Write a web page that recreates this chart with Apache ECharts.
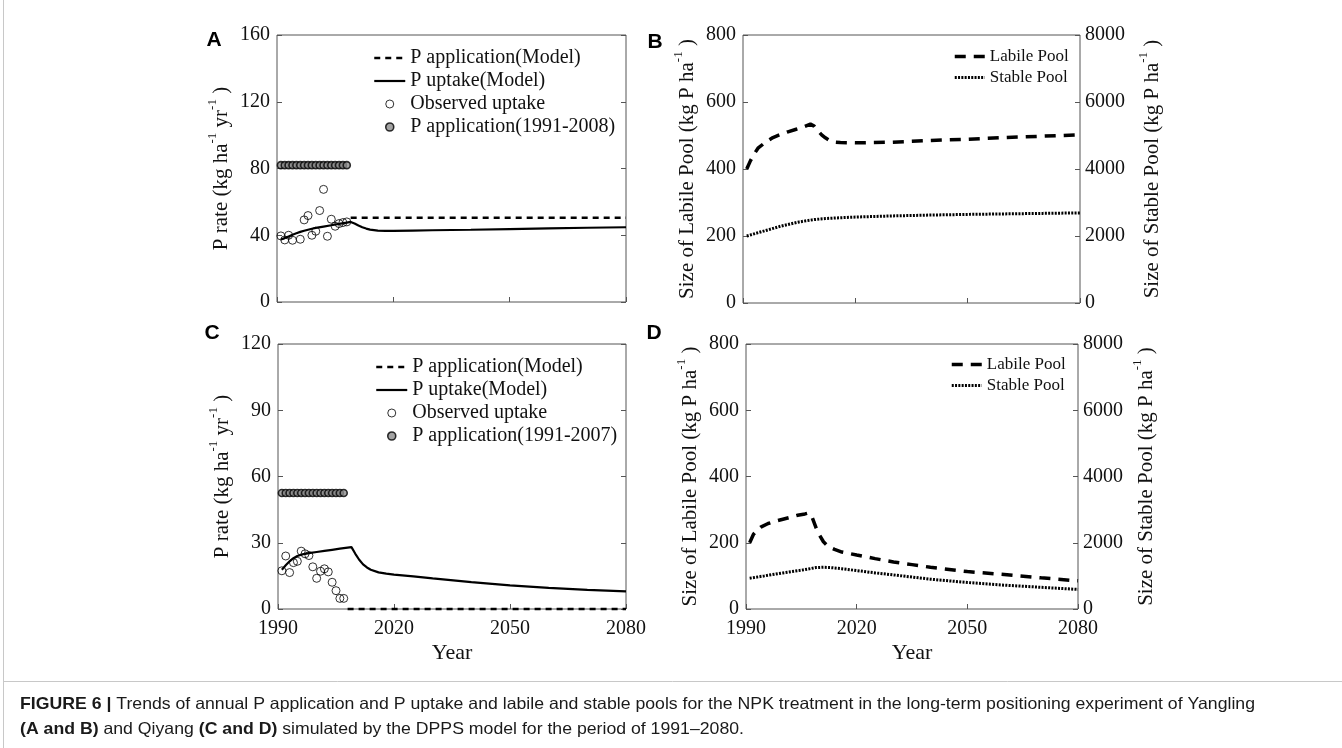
<!DOCTYPE html>
<html>
<head>
<meta charset="utf-8">
<title>DPPS simulation of P application, uptake and soil P pools</title>
<script src="https://cdn.jsdelivr.net/npm/echarts@6/dist/echarts.min.js"></script>
<style>
  html, body { margin: 0; padding: 0; background: #fff; }
  #chart { width: 1342px; height: 748px; }
</style>
</head>
<body>
<div id="chart"></div>
<script>
// ---------- Yangling (panels A and B) ----------
const yearsAppA = [1991, 1992, 1993, 1994, 1995, 1996, 1997, 1998, 1999, 2000, 2001, 2002, 2003, 2004, 2005, 2006, 2007, 2008];
const appRateA  = [82, 82, 82, 82, 82, 82, 82, 82, 82, 82, 82, 82, 82, 82, 82, 82, 82, 82];

const yearsObsA  = [1991, 1992, 1993, 1994, 1996, 1997, 1998, 1999, 2000, 2001, 2002, 2003, 2004, 2005, 2006, 2007, 2008];
const obsUptakeA = [39.6, 37.2, 40.0, 37.0, 37.6, 49.2, 51.8, 40.0, 42.4, 54.8, 67.5, 39.4, 49.6, 45.4, 47.0, 47.6, 48.0];

const yearsModelAppA = [2009, 2080];
const modelAppA      = [50.5, 50.5];

const yearsUptakeA = [1991, 1992, 1993, 1994, 1995, 1996, 1997, 1998, 1999, 2000, 2002, 2004, 2006, 2008, 2009,
                      2010, 2011, 2012, 2013, 2014, 2016, 2018, 2020, 2025, 2030, 2040, 2050, 2060, 2070, 2080];
const uptakeA      = [37.5, 38.3, 39.3, 40.3, 41.2, 42.0, 42.7, 43.3, 43.9, 44.4, 45.2, 46.0, 46.8, 47.6, 48.0,
                      47.0, 45.8, 44.8, 44.0, 43.4, 42.8, 42.6, 42.6, 42.8, 43.0, 43.3, 43.7, 44.1, 44.5, 44.8];

const yearsLabileB = [1991, 1992, 1993, 1994, 1996, 1998, 2000, 2002, 2004, 2006, 2008, 2009, 2010, 2011, 2012,
                      2013, 2014, 2016, 2020, 2030, 2040, 2050, 2060, 2070, 2080];
const labileB      = [400, 425, 445, 462, 480, 494, 503, 511, 518, 525, 534, 528, 514, 502, 493,
                      486, 481, 479, 478, 480, 485, 489, 494, 498, 502];

const yearsStableB = [1991, 1995, 2000, 2005, 2009, 2012, 2015, 2020, 2030, 2040, 2050, 2060, 2070, 2080];
const stableB      = [2000, 2130, 2290, 2420, 2490, 2520, 2540, 2565, 2600, 2625, 2645, 2660, 2675, 2690];

// ---------- Qiyang (panels C and D) ----------
const yearsAppC = [1991, 1992, 1993, 1994, 1995, 1996, 1997, 1998, 1999, 2000, 2001, 2002, 2003, 2004, 2005, 2006, 2007];
const appRateC  = [52.5, 52.5, 52.5, 52.5, 52.5, 52.5, 52.5, 52.5, 52.5, 52.5, 52.5, 52.5, 52.5, 52.5, 52.5, 52.5, 52.5];

const yearsObsC  = [1991, 1992, 1993, 1994, 1995, 1996, 1997, 1998, 1999, 2000, 2001, 2002, 2003, 2004, 2005, 2006, 2007];
const obsUptakeC = [17.3, 24.0, 16.5, 21.0, 21.6, 26.2, 25.0, 24.2, 19.1, 13.9, 17.1, 18.2, 16.8, 12.1, 8.3, 4.8, 4.8];

const yearsModelAppC = [2008, 2080];
const modelAppC      = [0, 0];

const yearsUptakeC = [1991, 1992, 1993, 1994, 1995, 1996, 1997, 1998, 2000, 2002, 2004, 2006, 2008, 2009, 2010,
                      2011, 2012, 2013, 2014, 2016, 2018, 2020, 2025, 2030, 2040, 2050, 2060, 2070, 2080];
const uptakeC      = [17.8, 19.8, 21.6, 23.0, 24.0, 24.6, 25.0, 25.3, 25.8, 26.3, 26.8, 27.3, 27.8, 28.0, 25.0,
                      22.3, 20.2, 18.8, 17.8, 16.6, 16.0, 15.6, 14.8, 13.9, 12.2, 10.7, 9.6, 8.7, 8.0];

const yearsLabileD = [1991, 1992, 1993, 1994, 1996, 1998, 2000, 2002, 2004, 2006, 2007, 2008, 2009, 2010, 2011,
                      2012, 2013, 2014, 2016, 2020, 2025, 2030, 2035, 2040, 2050, 2060, 2070, 2080];
const labileD      = [200, 225, 238, 247, 258, 265, 271, 277, 283, 287, 290, 275, 245, 222, 203,
                      192, 185, 180, 172, 163, 152, 142, 134, 126, 113, 104, 94, 85];

const yearsStableD = [1991, 1995, 2000, 2005, 2009, 2011, 2013, 2016, 2020, 2025, 2030, 2035, 2040, 2050, 2060, 2070, 2080];
const stableD      = [930, 1000, 1090, 1170, 1250, 1260, 1250, 1215, 1160, 1090, 1030, 965, 900, 800, 720, 655, 590];

// ---------- axis ticks ----------
const yearTicks   = { min: 1990, max: 2080, step: 30 };
const rateTicksA  = { min: 0, max: 160, step: 40 };
const rateTicksC  = { min: 0, max: 120, step: 30 };
const labileTicks = { min: 0, max: 800, step: 200 };
const stableTicks = { min: 0, max: 8000, step: 2000 };

// ---------- styling ----------
const SERIF = '"Liberation Serif", "Times New Roman", Times, serif';
const SANS  = '"Liberation Sans", Arial, Helvetica, sans-serif';
const INK   = '#111';
const FRAME = '#555';

const DASH_APP    = [6, 5];
const DASH_LABILE = [11, 8];
const DOT_STABLE  = [2, 1.3];

const APP_DOT_STYLE = { color: '#8c8c8c', borderColor: '#000', borderWidth: 1.6 };
const OBS_STYLE     = { color: 'rgba(255,255,255,0)', borderColor: '#000', borderWidth: 1 };

function pairs(xs, ys) { return xs.map((x, i) => [x, ys[i]]); }

const supRich = { s: { fontFamily: SERIF, fontSize: 13, lineHeight: 10, verticalAlign: 'top', color: INK } };

function gridBox(left, top, width, height) {
  return { left, top, width, height, show: true, borderColor: FRAME, borderWidth: 1, backgroundColor: 'transparent' };
}

function xAxisFor(gridIndex, withLabels) {
  return {
    type: 'value', gridIndex,
    min: yearTicks.min, max: yearTicks.max, interval: yearTicks.step,
    axisLine: { show: false }, splitLine: { show: false },
    axisTick: { show: true, inside: true, length: 5, lineStyle: { color: FRAME } },
    axisLabel: { show: withLabels, margin: 10, fontFamily: SERIF, fontSize: 20, color: INK, formatter: v => String(v) },
    name: withLabels ? 'Year' : '', nameLocation: 'middle', nameGap: 33,
    nameTextStyle: { fontFamily: SERIF, fontSize: 22, color: INK }
  };
}

function yAxisFor(gridIndex, position, ticks, showLabels, name, nameGap) {
  return {
    type: 'value', gridIndex, position,
    min: ticks.min, max: ticks.max, interval: ticks.step,
    axisLine: { show: false }, splitLine: { show: false },
    axisTick: { show: true, inside: true, length: 5, lineStyle: { color: FRAME } },
    axisLabel: { show: showLabels, margin: position === 'left' ? 7 : 5, fontFamily: SERIF, fontSize: 20, color: INK, formatter: v => String(v) },
    name: name || '', nameLocation: 'middle', nameRotate: 90, nameGap: nameGap || 0,
    nameTextStyle: { fontFamily: SERIF, fontSize: 21, lineHeight: 30, color: INK, rich: supRich }
  };
}

function lineSeries(name, xs, ys, xi, yi, dash, width) {
  return {
    type: 'line', name, data: pairs(xs, ys), xAxisIndex: xi, yAxisIndex: yi,
    symbol: 'none', showSymbol: false, clip: false, smooth: false,
    lineStyle: { color: '#000', width, type: dash },
    itemStyle: { color: '#000' }, z: 3
  };
}

function openCircles(name, xs, ys, xi, yi) {
  return {
    type: 'scatter', name, data: pairs(xs, ys), xAxisIndex: xi, yAxisIndex: yi,
    symbol: 'circle', symbolSize: 8, itemStyle: OBS_STYLE, z: 4
  };
}

function appDots(name, xs, ys, xi, yi) {
  return {
    type: 'scatter', name, data: pairs(xs, ys), xAxisIndex: xi, yAxisIndex: yi,
    symbol: 'circle', symbolSize: 7, itemStyle: APP_DOT_STYLE, z: 5
  };
}

function rateLegend(left, top, appName) {
  return {
    orient: 'vertical', left, top, padding: 0, itemGap: 3, itemWidth: 31, itemHeight: 8, align: 'left',
    selectedMode: false,
    textStyle: { fontFamily: SERIF, fontSize: 20, color: INK },
    data: [
      { name: 'P application(Model)', itemStyle: { opacity: 0 }, lineStyle: { color: '#000', width: 2.5, type: DASH_APP } },
      { name: 'P uptake(Model)', itemStyle: { opacity: 0 }, lineStyle: { color: '#000', width: 2.2, type: 'solid' } },
      { name: 'Observed uptake', itemStyle: OBS_STYLE },
      { name: appName, itemStyle: APP_DOT_STYLE }
    ]
  };
}

function poolLegend(left, top) {
  return {
    orient: 'vertical', left, top, padding: 0, itemGap: 4, itemWidth: 30, itemHeight: 8, align: 'left',
    selectedMode: false,
    textStyle: { fontFamily: SERIF, fontSize: 17, color: INK },
    data: [
      { name: 'Labile Pool', itemStyle: { opacity: 0 }, lineStyle: { color: '#000', width: 3.5, type: DASH_LABILE } },
      { name: 'Stable Pool', itemStyle: { opacity: 0 }, lineStyle: { color: '#000', width: 3, type: DOT_STABLE } }
    ]
  };
}

// ---------- caption ----------
const captionLine1 = [
  { text: 'FIGURE 6 |', bold: true },
  { text: ' Trends of annual P application and P uptake and labile and stable pools for the NPK treatment in the long-term positioning experiment of Yangling', bold: false }
];
const captionLine2 = [
  { text: '(A and B)', bold: true },
  { text: ' and Qiyang ', bold: false },
  { text: '(C and D)', bold: true },
  { text: ' simulated by the DPPS model for the period of 1991–2080.', bold: false }
];
const CAPTION_SIZE = 16.5;
const measureCtx = document.createElement('canvas').getContext('2d');
function measureParts(parts) {
  let w = 0;
  parts.forEach(p => {
    measureCtx.font = (p.bold ? 'bold ' : '') + CAPTION_SIZE + 'px ' + SANS;
    w += measureCtx.measureText(p.text).width;
  });
  return w;
}
function richText(parts) {
  return parts.map(p => p.bold ? '{b|' + p.text + '}' : '{n|' + p.text + '}').join('');
}
// the caption face is a condensed sans: squeeze the regular face to the line width
const captionScale = 1235 / measureParts(captionLine1);
const captionRich = {
  b: { fontFamily: SANS, fontSize: CAPTION_SIZE, fontWeight: 'bold', fill: '#1a1a1a', color: '#1a1a1a' },
  n: { fontFamily: SANS, fontSize: CAPTION_SIZE, fill: '#1a1a1a', color: '#1a1a1a' }
};

function panelLetter(letter, x, y) {
  return {
    type: 'text', x, y, silent: true,
    style: { text: letter, fontFamily: SANS, fontSize: 21, fontWeight: 'bold', fill: '#000', align: 'center', verticalAlign: 'middle' }
  };
}

const chart = echarts.init(document.getElementById('chart'), null, { renderer: 'canvas' });

chart.setOption({
  animation: false,
  backgroundColor: '#fff',
  grid: [
    gridBox(277, 35, 349, 267),
    gridBox(743, 35, 337, 268),
    gridBox(278, 344, 348, 265),
    gridBox(746, 344, 332, 265)
  ],
  xAxis: [
    xAxisFor(0, false),
    xAxisFor(1, false),
    xAxisFor(2, true),
    xAxisFor(3, true)
  ],
  yAxis: [
    yAxisFor(0, 'left', rateTicksA, true, 'P rate (kg ha{s|-1} yr{s|-1} )', 35),
    yAxisFor(0, 'right', rateTicksA, false),
    yAxisFor(1, 'left', labileTicks, true, 'Size of Labile Pool (kg P ha{s|-1} )', 33),
    yAxisFor(1, 'right', stableTicks, true, 'Size of Stable Pool (kg P ha{s|-1} )', 57),
    yAxisFor(2, 'left', rateTicksC, true, 'P rate (kg ha{s|-1} yr{s|-1} )', 35),
    yAxisFor(2, 'right', rateTicksC, false),
    yAxisFor(3, 'left', labileTicks, true, 'Size of Labile Pool (kg P ha{s|-1} )', 35),
    yAxisFor(3, 'right', stableTicks, true, 'Size of Stable Pool (kg P ha{s|-1} )', 53)
  ],
  legend: [
    rateLegend(373, 48, 'P application(1991-2008)'),
    poolLegend(953, 48),
    rateLegend(375, 357, 'P application(1991-2007)'),
    poolLegend(950, 356)
  ],
  series: [
    // A
    lineSeries('P application(Model)', yearsModelAppA, modelAppA, 0, 0, DASH_APP, 2.5),
    lineSeries('P uptake(Model)', yearsUptakeA, uptakeA, 0, 0, 'solid', 2.2),
    openCircles('Observed uptake', yearsObsA, obsUptakeA, 0, 0),
    appDots('P application(1991-2008)', yearsAppA, appRateA, 0, 0),
    // B
    lineSeries('Labile Pool', yearsLabileB, labileB, 1, 2, DASH_LABILE, 3.5),
    lineSeries('Stable Pool', yearsStableB, stableB, 1, 3, DOT_STABLE, 3),
    // C
    lineSeries('P application(Model)', yearsModelAppC, modelAppC, 2, 4, DASH_APP, 2.5),
    lineSeries('P uptake(Model)', yearsUptakeC, uptakeC, 2, 4, 'solid', 2.2),
    openCircles('Observed uptake', yearsObsC, obsUptakeC, 2, 4),
    appDots('P application(1991-2007)', yearsAppC, appRateC, 2, 4),
    // D
    lineSeries('Labile Pool', yearsLabileD, labileD, 3, 6, DASH_LABILE, 3.5),
    lineSeries('Stable Pool', yearsStableD, stableD, 3, 7, DOT_STABLE, 3)
  ],
  graphic: [
    // page frame
    { type: 'line', silent: true, shape: { x1: 3.5, y1: 0, x2: 3.5, y2: 748 }, style: { stroke: '#c8c8c8', lineWidth: 1 } },
    { type: 'line', silent: true, shape: { x1: 3, y1: 681.5, x2: 1342, y2: 681.5 }, style: { stroke: '#c8c8c8', lineWidth: 1 } },
    panelLetter('A', 214, 40),
    panelLetter('B', 655, 42),
    panelLetter('C', 212, 333),
    panelLetter('D', 654, 333),
    {
      type: 'text', x: 20, y: 696, scaleX: captionScale, silent: true,
      style: { text: richText(captionLine1), rich: captionRich, fontFamily: SANS, fontSize: CAPTION_SIZE, fill: '#1a1a1a', verticalAlign: 'top' }
    },
    {
      type: 'text', x: 20, y: 721, scaleX: captionScale, silent: true,
      style: { text: richText(captionLine2), rich: captionRich, fontFamily: SANS, fontSize: CAPTION_SIZE, fill: '#1a1a1a', verticalAlign: 'top' }
    }
  ]
});
</script>
</body>
</html>
